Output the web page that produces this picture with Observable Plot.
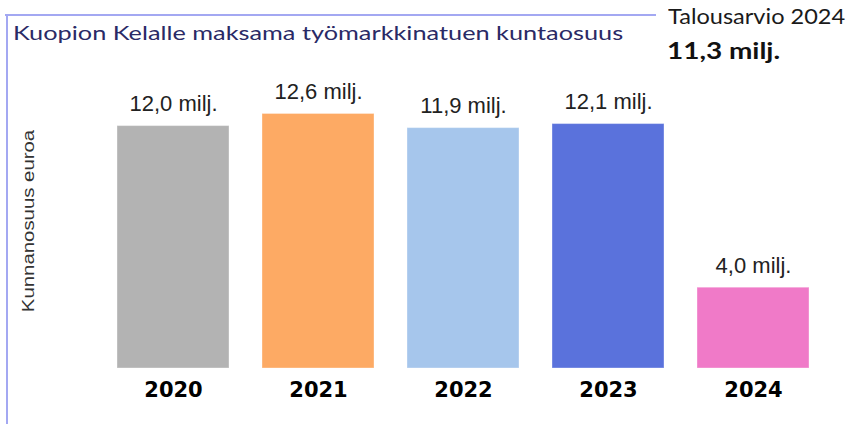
<!DOCTYPE html>
<html>
<head>
<meta charset="utf-8">
<script src="https://cdn.jsdelivr.net/npm/d3@7"></script>
<script src="https://cdn.jsdelivr.net/npm/@observablehq/plot@0.6"></script>
<style>
  html, body { margin: 0; padding: 0; background: #fff; }
  #wrap { position: relative; width: 864px; height: 424px; overflow: hidden; }
  #chart { position: absolute; left: 0; top: 0; }
  .abs { position: absolute; white-space: nowrap; line-height: 1; }
  .fit { transform-origin: left top; }
  #title { left: 13px; top: 23px; font-family: Lato, sans-serif; font-size: 19px; color: #2a2a66; }
  #budget1 { left: 668px; top: 5px; font-family: Lato, sans-serif; font-size: 21px; color: #1a1a1a; }
  #budget2 { left: 667px; top: 40px; font-family: Lato, sans-serif; font-size: 22px; font-weight: bold; color: #111; }
  #ylabel { left: 29px; top: 221px; font-family: "Liberation Sans", Arial, sans-serif; font-size: 16px; color: #333;
            transform-origin: center center; }
  #topline { left: 5px; top: 14px; width: 651px; height: 2px; background: #a3a8f2; }
  #leftline { left: 6px; top: 14px; width: 2px; height: 410px; background: #a3a8f2; }
  g[aria-label="x-axis tick label"] text { font-family: "DejaVu Sans", sans-serif; }
</style>
</head>
<body>
<div id="wrap">
  <div id="chart"></div>
  <div class="abs" id="topline"></div>
  <div class="abs" id="leftline"></div>
  <div class="abs fit" id="title">Kuopion Kelalle maksama työmarkkinatuen kuntaosuus</div>
  <div class="abs fit" id="budget1">Talousarvio 2024</div>
  <div class="abs fit" id="budget2">11,3 milj.</div>
  <div class="abs" id="ylabel">Kunnanosuus euroa</div>
</div>
<script>
const years = ["2020", "2021", "2022", "2023", "2024"];
const values = [12.0, 12.6, 11.9, 12.1, 4.0];
const labels = ["12,0 milj.", "12,6 milj.", "11,9 milj.", "12,1 milj.", "4,0 milj."];
const colors = ["#b3b3b3", "#fdaa64", "#a6c6ec", "#5a72dc", "#f07ac8"];

const data = years.map((y, i) => ({year: y, value: values[i], label: labels[i]}));

const chart = Plot.plot({
  width: 864,
  height: 424,
  marginLeft: 83,
  marginRight: 21,
  marginTop: 65,
  marginBottom: 56,
  x: {domain: years, padding: 0.23, label: null},
  y: {domain: [0, 15], axis: null},
  color: {domain: years, range: colors},
  style: {fontFamily: "'Liberation Sans', Arial, sans-serif", background: "transparent"},
  marks: [
    Plot.barY(data, {x: "year", y: "value", fill: "year", stroke: "#ffffff", strokeOpacity: 0.35, strokeWidth: 1}),
    Plot.text(data, {x: "year", y: "value", text: "label", lineAnchor: "bottom", dy: -15,
                     fontSize: 22, fill: "#222"}),
    Plot.axisX({tickSize: 0, tickPadding: 14, fontSize: 21, fontWeight: "bold", color: "#000", label: null})
  ]
});
document.getElementById("chart").appendChild(chart);

// stretch the HTML texts horizontally to the widths of the reference
// (offsetWidth ignores transforms, so repeated calls stay stable)
function fitX(id, target) {
  const el = document.getElementById(id);
  const w = el.offsetWidth;
  if (w > 0) el.style.transform = `scaleX(${target / w})`;
}
function fitY(id, target) {
  const el = document.getElementById(id);
  const w = el.offsetWidth;
  if (w > 0) el.style.transform = `translate(-50%, -50%) rotate(-90deg) scaleX(${target / w})`;
}
function layout() {
  fitX("title", 610);
  fitX("budget1", 177);
  fitX("budget2", 113);
  fitY("ylabel", 182);
}
layout();
if (document.fonts && document.fonts.ready) document.fonts.ready.then(layout);
</script>
</body>
</html>
